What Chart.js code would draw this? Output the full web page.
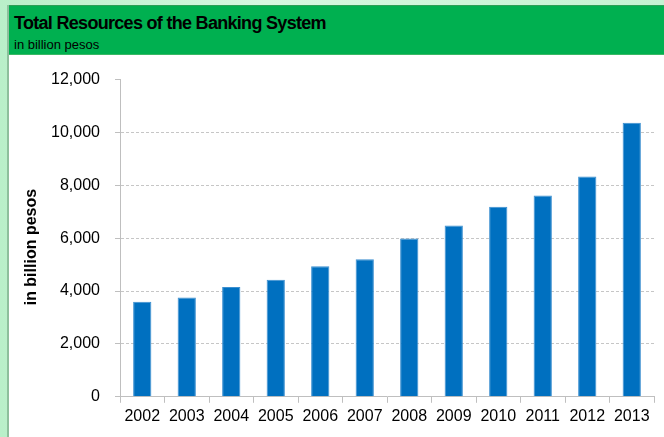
<!DOCTYPE html>
<html>
<head>
<meta charset="utf-8">
<script src="https://cdn.jsdelivr.net/npm/chart.js@4"></script>
<style>
  html, body { margin: 0; padding: 0; }
  body {
    width: 664px; height: 437px; overflow: hidden; position: relative;
    background: linear-gradient(90deg, #b9efc9, #d6f8e0 40%, #c4f2d2);
    font-family: "Liberation Sans", Arial, sans-serif;
  }
  #panel {
    position: absolute; left: 7px; top: 5px; right: 0; bottom: 0;
    background: #fff; border-left: 2px solid #8dbf9c;
  }
  #header {
    position: absolute; left: 0; top: 0; right: 0; height: 48px;
    background: #00b050; border-top: 1px solid #2e9e56; border-bottom: 1px solid #39b865;
  }
  #title { position: absolute; left: 5px; top: 7px; font-weight: bold; font-size: 18px; letter-spacing: -0.7px; color: #000; white-space: nowrap; }
  #sub { position: absolute; left: 5px; top: 31px; font-size: 13px; color: #000; white-space: nowrap; }
  #wrap { position: absolute; left: 1px; top: 50px; width: 656px; height: 382px; }
</style>
</head>
<body>
<div id="panel">
  <div id="header">
    <div id="title">Total Resources of the Banking System</div>
    <div id="sub">in billion pesos</div>
  </div>
  <div id="wrap"><canvas id="chart"></canvas></div>
</div>
<script>
const years = ["2002", "2003", "2004", "2005", "2006", "2007", "2008", "2009", "2010", "2011", "2012", "2013"];
const resources = [3600, 3760, 4150, 4430, 4940, 5200, 5990, 6480, 7190, 7620, 8330, 10370];
const yTicks = [0, 2000, 4000, 6000, 8000, 10000, 12000];

const axisGray = '#bfbfbf';

new Chart(document.getElementById('chart').getContext('2d'), {
    type: 'bar',
    data: {
        labels: years,
        datasets: [{
            label: 'Total Resources',
            data: resources,
            backgroundColor: '#0070c0',
            borderColor: '#3c8fd0',
            borderWidth: { top: 1, left: 1, right: 1, bottom: 0 },
            categoryPercentage: 1,
            barPercentage: 0.41
        }]
    },
    options: {
        responsive: true,
        maintainAspectRatio: false,
        animation: false,
        layout: { padding: { top: 16, right: 12, bottom: 7, left: 0 } },
        plugins: {
            legend: { display: false },
            tooltip: { enabled: false }
        },
        scales: {
            x: {
                grid: {
                    offset: true,
                    drawOnChartArea: true,
                    color: c => c.index === years.length ? axisGray : 'rgba(0,0,0,0)',
                    tickColor: axisGray,
                    tickLength: 6
                },
                border: { color: axisGray, width: 1 },
                ticks: {
                    color: '#000',
                    padding: 4,
                    font: { family: '"Liberation Sans", Arial, sans-serif', size: 16 }
                }
            },
            y: {
                min: 0,
                max: 12000,
                afterBuildTicks: s => { s.ticks = yTicks.map(v => ({ value: v })); },
                afterFit: s => { s.width = 110; },
                grid: {
                    color: c => c.index === 0 || c.index === yTicks.length - 1 ? 'rgba(0,0,0,0)' : '#c6c6c6',
                    tickColor: axisGray,
                    tickLength: 5,
                    tickBorderDash: [1, 0]
                },
                border: { color: axisGray, width: 1, dash: [3, 2] },
                ticks: {
                    color: '#000',
                    padding: 15,
                    font: { family: '"Liberation Sans", Arial, sans-serif', size: 16 },
                    callback: v => v.toLocaleString('en-US')
                },
                title: {
                    display: true,
                    text: 'in billion pesos    ',
                    color: '#000',
                    padding: { top: 12, bottom: 0 },
                    font: { family: '"Liberation Sans", Arial, sans-serif', size: 16, weight: 'bold' }
                }
            }
        }
    }
});
</script>
</body>
</html>
